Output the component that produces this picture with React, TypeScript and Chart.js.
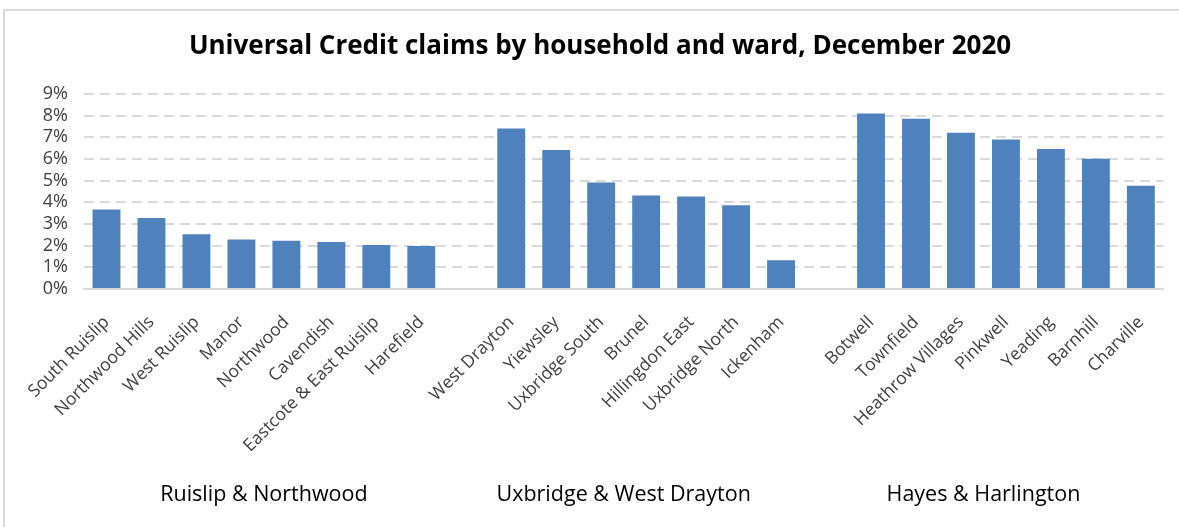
import React, { useEffect, useRef } from 'react';
import { Chart, registerables } from 'chart.js';

Chart.register(...registerables);

const titleText = 'Universal Credit claims by household and ward, December 2020';

const wardLabels = [
  'South Ruislip', 'Northwood Hills', 'West Ruislip', 'Manor', 'Northwood', 'Cavendish', 'Eastcote & East Ruislip', 'Harefield',
  '', 'West Drayton', 'Yiewsley', 'Uxbridge South', 'Brunel', 'Hillingdon East', 'Uxbridge North', 'Ickenham',
  '', 'Botwell', 'Townfield', 'Heathrow Villages', 'Pinkwell', 'Yeading', 'Barnhill', 'Charville',
];

const claimShare = [
  3.67, 3.28, 2.53, 2.28, 2.23, 2.17, 2.03, 1.99,
  null, 7.41, 6.41, 4.92, 4.31, 4.27, 3.87, 1.33,
  null, 8.10, 7.86, 7.21, 6.90, 6.46, 6.01, 4.76,
];

const constituencyLabels = ['Ruislip & Northwood', 'Uxbridge & West Drayton', 'Hayes & Harlington'];

const yTicks = [0, 1, 2, 3, 4, 5, 6, 7, 8, 9];

const FONT = '"Open Sans"';

export default function App() {
  const canvasRef = useRef<HTMLCanvasElement | null>(null);

  useEffect(() => {
    document.body.style.margin = '0';
    const canvas = canvasRef.current;
    if (!canvas) return;
    const chart = new Chart(canvas, {
      type: 'bar',
      data: {
        labels: wardLabels,
        datasets: [
          {
            label: 'Universal Credit claims',
            data: claimShare,
            backgroundColor: '#4f81bd',
            borderWidth: 0,
            barPercentage: 0.62,
            categoryPercentage: 1,
            xAxisID: 'x',
          },
        ],
      },
      options: {
        responsive: false,
        animation: false,
        layout: { padding: { left: 35, right: 14, top: 0, bottom: 0 } },
        plugins: {
          legend: { display: false },
          tooltip: { enabled: false },
          title: {
            display: true,
            text: titleText,
            color: '#000000',
            font: { family: FONT, size: 26, weight: 'bold', lineHeight: 1.2 },
            padding: { top: 31, bottom: 31.8 },
          },
        },
        scales: {
          x: {
            type: 'category',
            position: 'bottom',
            offset: true,
            grid: { display: false, drawTicks: false },
            border: { display: true, color: '#d9d9d9', width: 2 },
            ticks: {
              autoSkip: false,
              maxRotation: 45,
              minRotation: 45,
              padding: 23,
              color: '#404040',
              font: { family: FONT, size: 17.5 },
            },
            afterFit: (scale: any) => {
              scale.height = 175;
            },
          },
          x2: {
            type: 'category',
            position: 'bottom',
            labels: constituencyLabels,
            offset: true,
            grid: { display: false, drawTicks: false },
            border: { display: false },
            ticks: {
              autoSkip: false,
              maxRotation: 0,
              minRotation: 0,
              padding: 18,
              color: '#000000',
              font: { family: FONT, size: 21.5 },
            },
            afterFit: (scale: any) => {
              scale.height = 63;
            },
          },
          y: {
            min: 0,
            max: 9,
            grid: {
              color: '#d9d9d9',
              lineWidth: 2,
              drawTicks: false,
            },
            border: { display: false, dash: [10, 6] },
            ticks: {
              stepSize: 1,
              autoSkip: false,
              padding: 16,
              color: '#404040',
              font: { family: FONT, size: 18 },
              callback: (v: any) => (yTicks.includes(Number(v)) ? `${v}%` : ''),
            },
            afterFit: (scale: any) => {
              scale.width = 49;
            },
          },
        },
      },
    });
    return () => chart.destroy();
  }, []);

  return (
    <div style={{ position: 'relative', width: 1179, height: 527, background: '#ffffff' }}>
      <canvas ref={canvasRef} width={1179} height={527} style={{ display: 'block' }} />
      <div
        style={{
          position: 'absolute',
          left: 3,
          top: 9,
          right: 0,
          bottom: 0,
          borderLeft: '2px solid #d9d9d9',
          borderTop: '2px solid #d9d9d9',
          pointerEvents: 'none',
        }}
      />
    </div>
  );
}
